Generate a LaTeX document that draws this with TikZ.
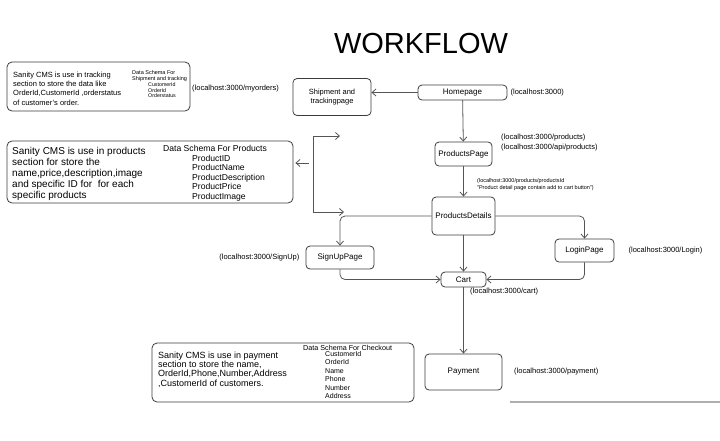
\documentclass[tikz,border=0pt]{standalone}
\usepackage{fontspec}
\setmainfont{Liberation Sans}
\usetikzlibrary{arrows.meta,positioning}
\definecolor{linegray}{RGB}{85,85,85}
\definecolor{boxgray}{RGB}{60,60,60}
\definecolor{rulegray}{RGB}{175,175,175}
\newcommand{\fs}[2]{\fontsize{#1}{#2}\selectfont}

\begin{document}
\begin{tikzpicture}[x=1pt, y=-1pt,
        >={Straight Barb[length=4pt,width=7pt]},
        box/.style={draw=boxgray, line width=0.8pt, rounded corners=4pt, align=center, font=\fs{8}{9.5}, inner sep=0pt},
        cms/.style={draw=boxgray, line width=0.8pt, rounded corners=5pt, inner sep=0pt},
        txt/.style={inner sep=0pt, align=left, anchor=west},
        url/.style={inner sep=0pt, align=left, font=\fs{7.5}{10}},
        arrow/.style={->, line width=0.8pt, draw=linegray, rounded corners=5pt}
    ]
        \useasboundingbox (0,0) rectangle (720,440);

        % Title
        \node[font=\fs{29}{30}] (title) at (421,44) {WORKFLOW};

        % Pages
        \node[box, minimum width=78, minimum height=37, font=\fs{7.5}{9.5}] (ship) at (332,97) {Shipment and\\trackingpage};
        \node[box, minimum width=89, minimum height=15] (home) at (462.5,92.5) {Homepage};
        \node[box, minimum width=57, minimum height=24] (prodpage) at (463.5,154) {ProductsPage};
        \node[box, minimum width=63, minimum height=38] (details) at (463.5,216) {ProductsDetails};
        \node[box, minimum width=59, minimum height=23] (login) at (584.5,250.5) {LoginPage};
        \node[box, minimum width=68, minimum height=23] (signup) at (340,257.5) {SignUpPage};
        \node[box, minimum width=45, minimum height=15] (cart) at (463.5,279.5) {Cart};
        \node[box, minimum width=77, minimum height=36] (payment) at (463.5,372) {Payment};

        % Sanity CMS boxes
        \node[cms, minimum width=183, minimum height=49] (trackcms) at (98.5,86.5) {};
        \node[txt, font=\fs{7.5}{9.3}] (tracktext) at (13,88.5) {Sanity CMS is use in tracking\\section to store the data like\\OrderId,CustomerId ,orderstatus\\of customer's order.};
        \node[txt, font=\fs{5.5}{5.8}] (trackhead) at (132,76) {Data Schema For\\Shipment and tracking};
        \node[txt, font=\fs{5.3}{5.6}] (trackfields) at (148,90.5) {CustomerId\\OrderId\\Orderstatus};

        \node[cms, minimum width=286, minimum height=62] (prodcms) at (150,172) {};
        \node[txt, font=\fs{10}{11}] (prodtext) at (12,174) {Sanity CMS is use in products\\section for store the\\name,price,description,image\\and specific ID for\ \ for each\\specific products};
        \node[txt, font=\fs{8.6}{9.6}] (prodhead) at (163,148) {Data Schema For Products};
        \node[txt, font=\fs{8.6}{9.6}] (prodfields) at (192,178) {ProductID\\ProductName\\ProductDescription\\ProductPrice\\ProductImage};

        \node[cms, minimum width=262, minimum height=59] (paycms) at (283,372.5) {};
        \node[txt, font=\fs{9}{9.3}] (paytext) at (158,369.5) {Sanity CMS is use in payment\\section to store the name,\\OrderId,Phone,Number,Address\\,CustomerId of customers.};
        \node[txt, font=\fs{7.2}{8}] (payhead) at (303,348) {Data Schema For Checkout};
        \node[txt, font=\fs{7}{8.4}] (payfields) at (325,375) {CustomerId\\OrderId\\Name\\Phone\\Number\\Address};

        % Routes
        \node[url, anchor=west] (urlorders) at (192,89) {(localhost:3000/myorders)};
        \node[url, right=3pt of home] (urlhome) {(localhost:3000)};
        \node[url, anchor=west] (urlprod) at (501,143) {(localhost:3000/products)\\(localhost:3000/api/products)};
        \node[url, anchor=west, font=\fs{5.5}{7}] (urldetail) at (477,184.5) {(localhost:3000/products/productsId\\"Product detail page contain add to cart button")};
        \node[url, right=14pt of login] (urllogin) {(localhost:3000/Login)};
        \node[url, left=6pt of signup] (urlsignup) {(localhost:3000/SignUp)};
        \node[url, anchor=west] (urlcart) at (470,292) {(localhost:3000/cart)};
        \node[url, anchor=west] (urlpay) at (514,372) {(localhost:3000/payment)};

        % Connectors
        \draw[arrow] (home.west) -- (home.west -| ship.east);
        \draw[arrow] (home) -- (prodpage);
        \draw[arrow] (prodpage) -- (details);
        \draw[arrow] (details) -- (cart);
        \draw[arrow] (cart) -- (payment);
        \draw[arrow] (details.east) -| (login.north);
        \draw[arrow] (login.south) |- (cart.east);
        \draw[arrow] (details.west) -| (signup.north);
        \draw[arrow] (signup.south) |- (cart.west);

        % Bracket towards products box
        \coordinate (brtop) at (313,136);
        \coordinate (brtopend) at (340,136);
        \coordinate (brbot) at (313,212);
        \coordinate (brbotend) at (344,212);
        \coordinate (brmid) at (309,163);
        \draw[<->, line width=0.8pt, draw=linegray] (brbotend) -- (brbot) |- (brtopend);
        \draw[arrow, shorten >=2pt] (brmid) -- (brmid -| prodcms.east);

        % Rule
        \coordinate (rulestart) at (510,402);
        \coordinate (ruleend) at (720,402);
        \draw[rulegray, line width=1.8pt] (rulestart) -- (ruleend);
    \end{tikzpicture}
\end{document}
